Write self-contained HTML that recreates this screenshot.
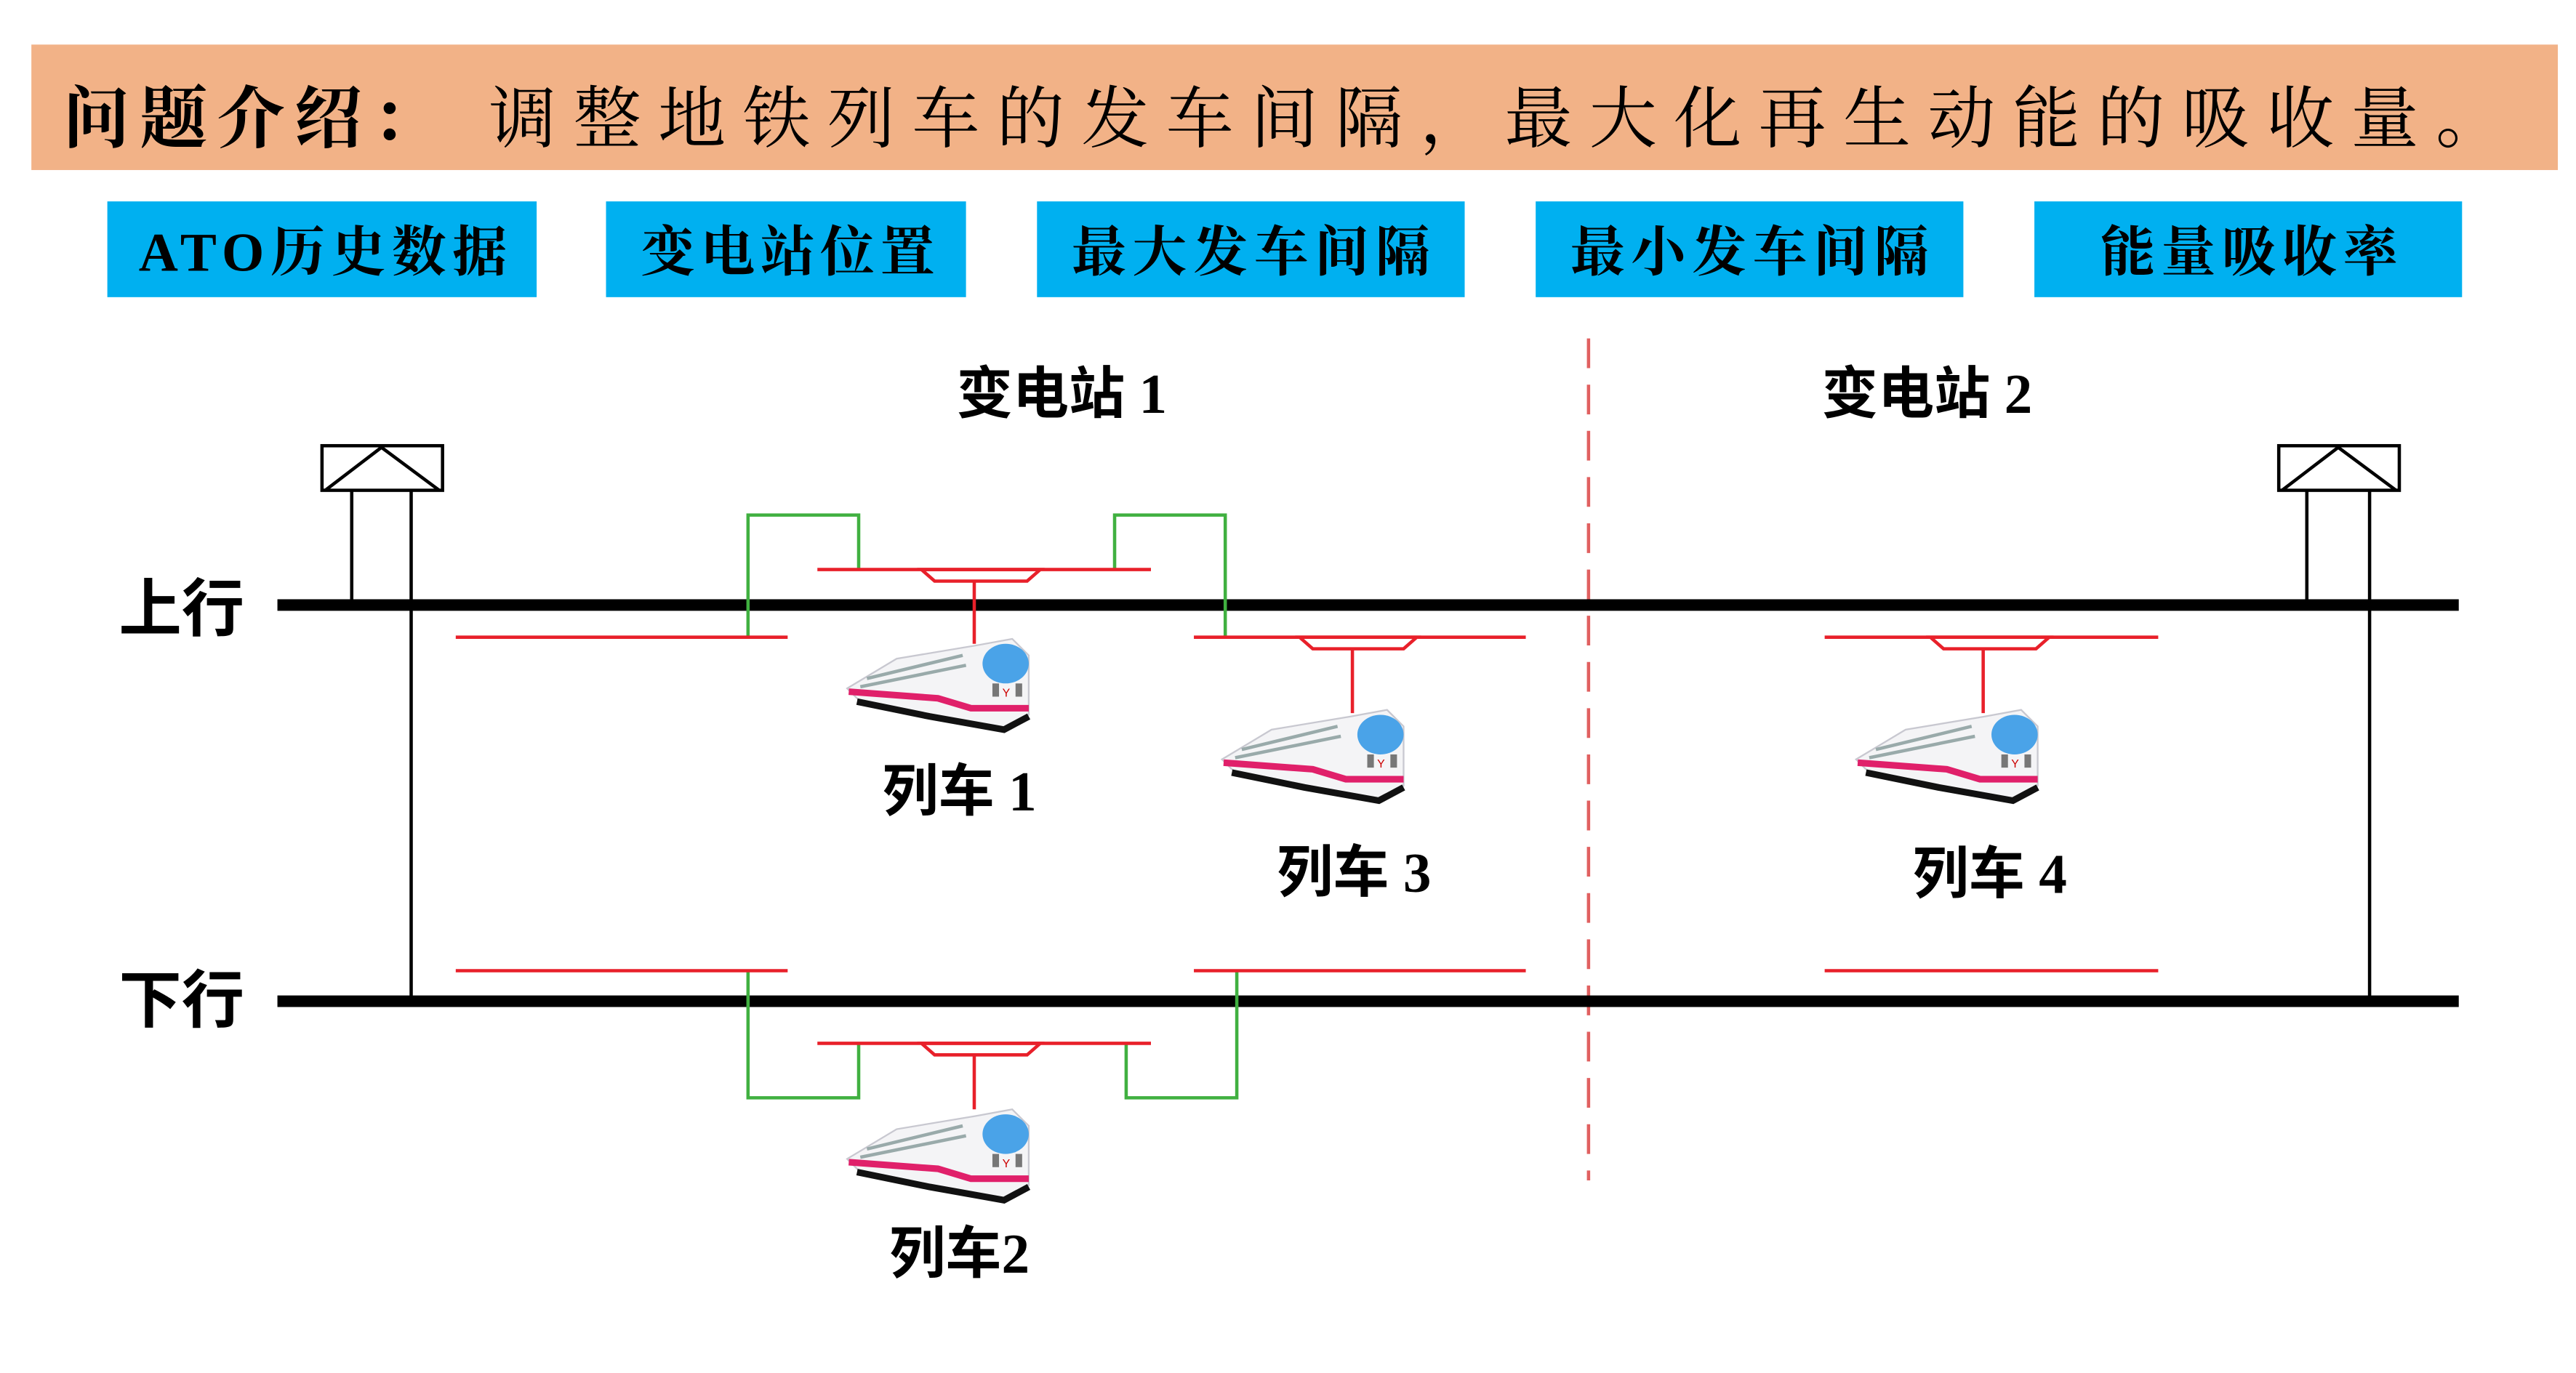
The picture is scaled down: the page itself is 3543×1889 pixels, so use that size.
<!DOCTYPE html>
<html><head><meta charset="utf-8"><style>
html,body{margin:0;padding:0;background:#fff;}
svg{display:block;}
</style></head><body>
<svg width="3543" height="1889" viewBox="0 0 1560 831.7" preserveAspectRatio="none" xmlns="http://www.w3.org/2000/svg">
<defs>
<g id="train">
  <polygon points="0,30 30,12 78,4 100,0 110,10 110,46 97,55 50,48 8,38" fill="#f4f4f6" stroke="#c8c8d0" stroke-width="1"/>
  <path d="M12,24 L70,10 M8,29 L72,16" stroke="#9aa" stroke-width="2" fill="none"/>
  <ellipse cx="96" cy="15" rx="14" ry="12" fill="#4aa3e8"/>
  <path d="M1,32 L55,36 L75,42 L110,42" stroke="#e0206a" stroke-width="4" fill="none"/>
  <path d="M6,38 L50,47 L95,55 L110,47" stroke="#111" stroke-width="4" fill="none"/>
  <rect x="88" y="27" width="4" height="8" fill="#777"/><rect x="102" y="27" width="4" height="8" fill="#777"/>
  <text x="94" y="35" font-size="7" fill="#c00" font-family="Liberation Sans,sans-serif">Y</text>
</g>
</defs>
<rect x="19" y="27" width="1530" height="76" fill="#F2B287"/>
<text x="38" y="86" font-size="41" font-family="Liberation Serif,'Noto Serif CJK SC',serif" fill="#000"><tspan font-weight="bold" textLength="228" lengthAdjust="spacing">问题介绍：</tspan><tspan x="296" textLength="1220" lengthAdjust="spacing">调整地铁列车的发车间隔，最大化再生动能的吸收量。</tspan></text>

<g fill="#00B0F0">
<rect x="65" y="122" width="260" height="58"/>
<rect x="367" y="122" width="218" height="58"/>
<rect x="628" y="122" width="259" height="58"/>
<rect x="930" y="122" width="259" height="58"/>
<rect x="1232" y="122" width="259" height="58"/>
</g>
<g font-size="33" font-weight="bold" font-family="Liberation Serif,'Noto Serif CJK SC',serif" fill="#000">
<text x="84" y="164" textLength="223" lengthAdjust="spacing">ATO历史数据</text>
<text x="388" y="164" textLength="178" lengthAdjust="spacing">变电站位置</text>
<text x="649" y="164" textLength="217" lengthAdjust="spacing">最大发车间隔</text>
<text x="951" y="164" textLength="217" lengthAdjust="spacing">最小发车间隔</text>
<text x="1272" y="164" textLength="180" lengthAdjust="spacing">能量吸收率</text>
</g>

<g font-size="34" font-weight="bold" font-family="Liberation Serif,'Noto Sans CJK SC',sans-serif" fill="#000" text-anchor="middle">
<text x="643" y="250">变电站 1</text>
<text x="1167" y="250">变电站 2</text>
<text x="581" y="491">列车 1</text>
<text x="820" y="540">列车 3</text>
<text x="1205" y="541">列车 4</text>
<text x="581" y="771">列车2</text>
</g>
<g font-size="38" font-weight="bold" font-family="'Noto Sans CJK SC',sans-serif" fill="#000">
<text x="72" y="382">上行</text>
<text x="72" y="619">下行</text>
</g>

<line x1="962" y1="205" x2="962" y2="715" stroke="#e06060" stroke-width="2" stroke-dasharray="18,10"/>

<g stroke="#000" stroke-width="2" fill="#fff">
<rect x="195" y="270" width="73" height="27"/>
<polyline points="197,297 231,271 266,297" fill="none"/>
<line x1="213" y1="297" x2="213" y2="366"/>
<line x1="249" y1="297" x2="249" y2="606"/>
<rect x="1380" y="270" width="73" height="27"/>
<polyline points="1382,297 1416,271 1451,297" fill="none"/>
<line x1="1397" y1="297" x2="1397" y2="366"/>
<line x1="1435" y1="297" x2="1435" y2="606"/>
</g>

<rect x="168" y="363" width="1321" height="7" fill="#000"/>
<rect x="168" y="603" width="1321" height="7" fill="#000"/>

<g stroke="#40b040" stroke-width="2" fill="none">
<polyline points="453,386 453,312 520,312 520,345"/>
<polyline points="675,345 675,312 742,312 742,386"/>
<polyline points="453,588 453,665 520,665 520,632"/>
<polyline points="682,632 682,665 749,665 749,588"/>
</g>

<g stroke="#e8202a" stroke-width="2" fill="none">
<line x1="495" y1="345" x2="697" y2="345"/>
<polygon points="558,345 630,345 622,352 566,352"/>
<line x1="590" y1="352" x2="590" y2="390"/>
<line x1="276" y1="386" x2="477" y2="386"/>
<line x1="723" y1="386" x2="924" y2="386"/>
<polygon points="787,386 858,386 850,393 795,393"/>
<line x1="819" y1="393" x2="819" y2="432"/>
<line x1="1105" y1="386" x2="1307" y2="386"/>
<polygon points="1169,386 1241,386 1233,393 1177,393"/>
<line x1="1201" y1="393" x2="1201" y2="432"/>
<line x1="276" y1="588" x2="477" y2="588"/>
<line x1="723" y1="588" x2="924" y2="588"/>
<line x1="1105" y1="588" x2="1307" y2="588"/>
<line x1="495" y1="632" x2="697" y2="632"/>
<polygon points="558,632 630,632 622,639 566,639"/>
<line x1="590" y1="639" x2="590" y2="672"/>
</g>

<use href="#train" x="513" y="387"/>
<use href="#train" x="740" y="430"/>
<use href="#train" x="1124" y="430"/>
<use href="#train" x="513" y="672"/>
</svg>
</body></html>
